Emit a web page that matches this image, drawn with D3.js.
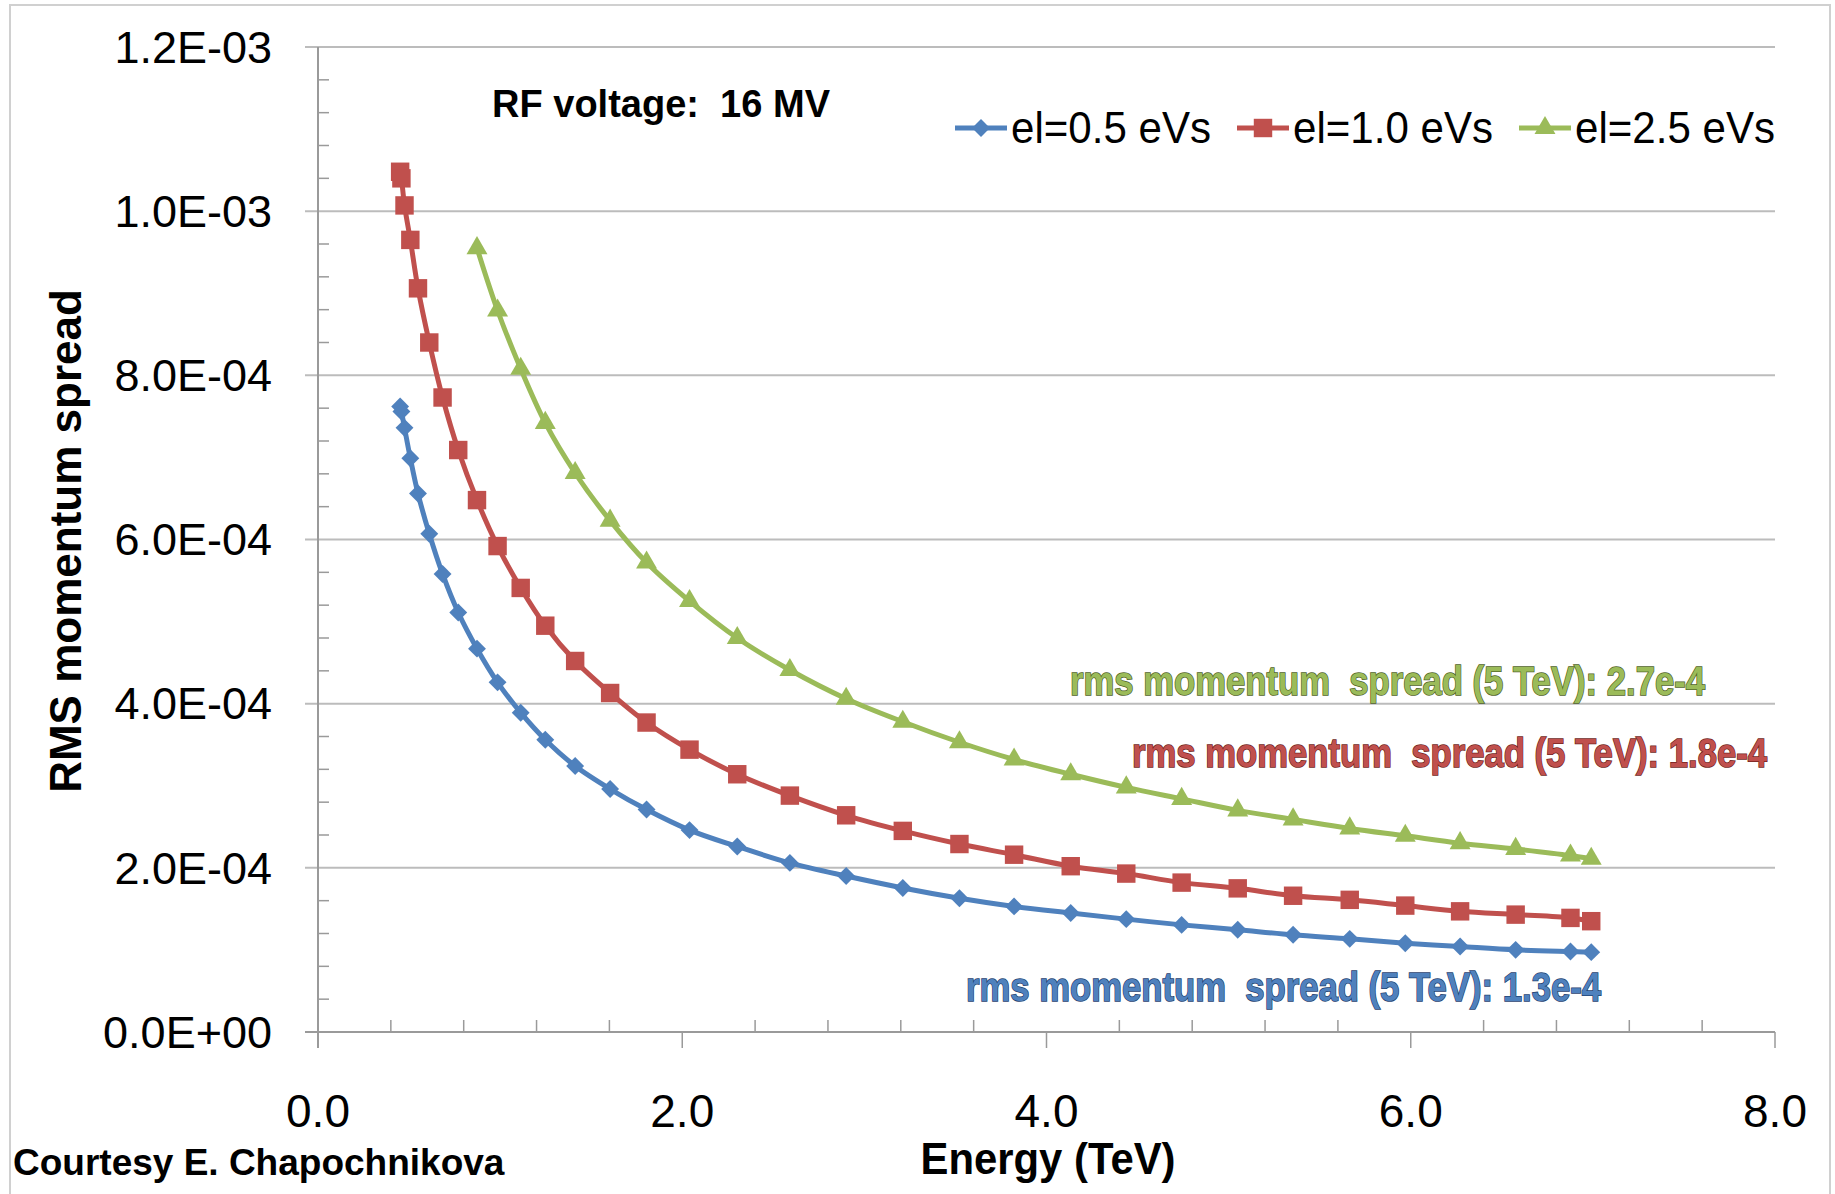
<!DOCTYPE html>
<html>
<head>
<meta charset="utf-8">
<script src="https://cdn.jsdelivr.net/npm/d3@7"></script>
<style>
body { margin: 0; background: #fff; }
text { white-space: pre; }
</style>
</head>
<body>
<svg id="chart"></svg>
<script>
// energies (TeV) of the computed points
var energy = [0.451, 0.458, 0.475, 0.507, 0.549, 0.611, 0.684, 0.770, 0.873, 0.986,
              1.113, 1.248, 1.412, 1.604, 1.804, 2.040, 2.302, 2.591, 2.900, 3.211,
              3.522, 3.822, 4.133, 4.438, 4.742, 5.050, 5.354, 5.665, 5.970, 6.271,
              6.576, 6.877, 6.991];
var energyGreen = [0.873, 0.986, 1.113, 1.248, 1.412, 1.604, 1.804, 2.040, 2.302, 2.591,
                   2.900, 3.211, 3.522, 3.822, 4.133, 4.438, 4.742, 5.050, 5.354, 5.665,
                   5.970, 6.271, 6.576, 6.877, 6.991];

// rms momentum spread, in units of 1e-3
var spread05 = [0.762, 0.756, 0.736, 0.699, 0.656, 0.607, 0.558, 0.511, 0.467, 0.426,
                0.389, 0.356, 0.324, 0.296, 0.271, 0.246, 0.226, 0.206, 0.190, 0.1755,
                0.163, 0.153, 0.145, 0.1375, 0.1305, 0.1245, 0.1184, 0.1135, 0.1082, 0.1041,
                0.1001, 0.0980, 0.0973];
var spread10 = [1.048, 1.040, 1.007, 0.965, 0.906, 0.840, 0.773, 0.709, 0.648, 0.592,
                0.541, 0.495, 0.452, 0.413, 0.377, 0.344, 0.314, 0.288, 0.264, 0.245,
                0.229, 0.216, 0.202, 0.193, 0.182, 0.175, 0.166, 0.161, 0.154, 0.147,
                0.143, 0.139, 0.135];
var spread25 = [0.955, 0.879, 0.808, 0.742, 0.681, 0.623, 0.572, 0.525, 0.480, 0.441,
                0.406, 0.378, 0.353, 0.332, 0.314, 0.298, 0.284, 0.270, 0.259, 0.248,
                0.239, 0.230, 0.223, 0.215, 0.211];

var seriesNames = ["el=0.5 eVs", "el=1.0 eVs", "el=2.5 eVs"];
var notes = ["rms momentum  spread (5 TeV): 1.3e-4",
             "rms momentum  spread (5 TeV): 1.8e-4",
             "rms momentum  spread (5 TeV): 2.7e-4"];

var yTicks = [0, 0.2, 0.4, 0.6, 0.8, 1.0, 1.2];
var xTicks = [0, 2, 4, 6, 8];

var width = 1835;
var height = 1194;
var narrow = "'Liberation Sans Narrow', 'Arial Narrow', 'Liberation Sans', sans-serif";
var arial = "'Liberation Sans', Arial, sans-serif";

var colors = ["#4F81BD", "#C0504D", "#9BBB59"];
var darks = ["#1F3F6E", "#6E1F1C", "#4F6228"];

var svg = d3.select("#chart")
            .attr("width", width)
            .attr("height", height);

var x = d3.scaleLinear().domain([0, 8]).range([318, 1775]);
var y = d3.scaleLinear().domain([0, 1.2]).range([1032, 47]);

//outer frame
svg.append("rect")
  .attr("x", 10)
  .attr("y", 5)
  .attr("width", 1820)
  .attr("height", 1220)
  .attr("fill", "none")
  .attr("stroke", "#d0d0d0")
  .attr("stroke-width", 2);

//gridlines + y labels
function sciLabel(v) {
  if (v == 0) return "0.0E+00";
  var val = v * 1e-3;
  var e = Math.floor(Math.log10(val) + 1e-9);
  var m = val / Math.pow(10, e);
  return m.toFixed(1) + "E" + (e < 0 ? "-" : "+") + String(Math.abs(e)).padStart(2, "0");
}

var grid = svg.append("g");

yTicks.forEach(function (v) {
  grid.append("line")
    .attr("x1", 305)
    .attr("x2", x(8))
    .attr("y1", y(v))
    .attr("y2", y(v))
    .attr("stroke", v == 0 ? "#9a9a9a" : "#bcbcbc")
    .attr("stroke-width", 2);

  grid.append("text")
    .text(sciLabel(v))
    .attr("font-family", narrow)
    .attr("font-size", "45px")
    .attr("text-anchor", "end")
    .attr("dy", ".35em")
    .attr("x", 272)
    .attr("y", y(v));
});

//minor ticks on y, 5 per major step
d3.range(0, 30).forEach(function (i) {
  if (i % 5 == 0) return;
  var v = i * 0.04;
  grid.append("line")
    .attr("x1", x(0))
    .attr("x2", x(0) + 11)
    .attr("y1", y(v))
    .attr("y2", y(v))
    .attr("stroke", "#9a9a9a")
    .attr("stroke-width", 1.5);
});

//y axis line
grid.append("line")
  .attr("x1", x(0))
  .attr("x2", x(0))
  .attr("y1", y(1.2))
  .attr("y2", y(0) + 16)
  .attr("stroke", "#9a9a9a")
  .attr("stroke-width", 2);

//x ticks and labels
xTicks.forEach(function (v) {
  grid.append("line")
    .attr("x1", x(v))
    .attr("x2", x(v))
    .attr("y1", y(0))
    .attr("y2", y(0) + 16)
    .attr("stroke", "#9a9a9a")
    .attr("stroke-width", 1.5);

  grid.append("text")
    .text(v.toFixed(1))
    .attr("font-family", narrow)
    .attr("font-size", "46px")
    .attr("text-anchor", "middle")
    .attr("x", x(v))
    .attr("y", 1127);
});

d3.range(1, 20).forEach(function (i) {
  if (i % 5 == 0) return;
  var v = i * 0.4;
  grid.append("line")
    .attr("x1", x(v))
    .attr("x2", x(v))
    .attr("y1", y(0) - 12)
    .attr("y2", y(0))
    .attr("stroke", "#9a9a9a")
    .attr("stroke-width", 1.5);
});

//axis titles
svg.append("text")
  .text("Energy (TeV)")
  .attr("font-family", narrow)
  .attr("font-weight", "bold")
  .attr("font-size", "44px")
  .attr("text-anchor", "middle")
  .attr("textLength", 255)
  .attr("lengthAdjust", "spacingAndGlyphs")
  .attr("x", 1048)
  .attr("y", 1174);

svg.append("text")
  .text("RMS momentum spread")
  .attr("font-family", arial)
  .attr("font-weight", "bold")
  .attr("font-size", "44px")
  .attr("text-anchor", "middle")
  .attr("transform", "translate(81,541) rotate(-90)");

svg.append("text")
  .text("Courtesy E. Chapochnikova")
  .attr("font-family", arial)
  .attr("font-weight", "bold")
  .attr("font-size", "37px")
  .attr("x", 13)
  .attr("y", 1175);

svg.append("text")
  .text("RF voltage:  16 MV")
  .attr("font-family", narrow)
  .attr("font-weight", "bold")
  .attr("font-size", "39px")
  .attr("textLength", 338)
  .attr("lengthAdjust", "spacingAndGlyphs")
  .attr("x", 492)
  .attr("y", 117);

//series
var series = [
  {xs: energy, ys: spread05, sym: "diamond"},
  {xs: energy, ys: spread10, sym: "square"},
  {xs: energyGreen, ys: spread25, sym: "triangle"}
];

function marker(g, kind, color, cx, cy) {
  var p;
  if (kind == "diamond") {
    p = g.append("path")
      .attr("d", d3.symbol().type(d3.symbolSquare).size(160)())
      .attr("transform", "translate(" + cx + "," + cy + ") rotate(45)");
  } else if (kind == "square") {
    p = g.append("path")
      .attr("d", d3.symbol().type(d3.symbolSquare).size(340)())
      .attr("transform", "translate(" + cx + "," + cy + ")");
  } else {
    p = g.append("path")
      .attr("d", d3.symbol().type(d3.symbolTriangle).size(190)())
      .attr("transform", "translate(" + cx + "," + cy + ")");
  }
  p.attr("fill", color);
}

var line = d3.line()
  .x(function (d) { return x(d[0]); })
  .y(function (d) { return y(d[1]); })
  .curve(d3.curveCatmullRom.alpha(0.5));

var plot = svg.append("g");

series.forEach(function (s, i) {
  var pts = s.xs.map(function (e, j) { return [e, s.ys[j]]; });

  plot.append("path")
    .attr("d", line(pts))
    .attr("fill", "none")
    .attr("stroke", colors[i])
    .attr("stroke-width", 5);

  pts.forEach(function (p) {
    marker(plot, s.sym, colors[i], x(p[0]), y(p[1]));
  });
});

//legend
var legend = svg.append("g");

seriesNames.forEach(function (name, i) {
  var lx = 955 + i * 282;

  legend.append("line")
    .attr("x1", lx)
    .attr("x2", lx + 52)
    .attr("y1", 128)
    .attr("y2", 128)
    .attr("stroke", colors[i])
    .attr("stroke-width", 5);

  marker(legend, series[i].sym, colors[i], lx + 26, 128);

  legend.append("text")
    .text(name)
    .attr("font-family", narrow)
    .attr("font-size", "45px")
    .attr("textLength", 200)
    .attr("lengthAdjust", "spacingAndGlyphs")
    .attr("x", lx + 56)
    .attr("y", 143);
});

//annotations at 5 TeV
var notePos = [[966, 1001], [1132, 767], [1070, 695]];

notes.forEach(function (t, i) {
  svg.append("text")
    .text(t)
    .attr("font-family", narrow)
    .attr("font-weight", "bold")
    .attr("font-size", "40px")
    .attr("textLength", 635)
    .attr("lengthAdjust", "spacingAndGlyphs")
    .attr("fill", colors[i])
    .attr("stroke", darks[i])
    .attr("stroke-width", 1.5)
    .attr("paint-order", "stroke")
    .attr("x", notePos[i][0])
    .attr("y", notePos[i][1]);
});
</script>
</body>
</html>
